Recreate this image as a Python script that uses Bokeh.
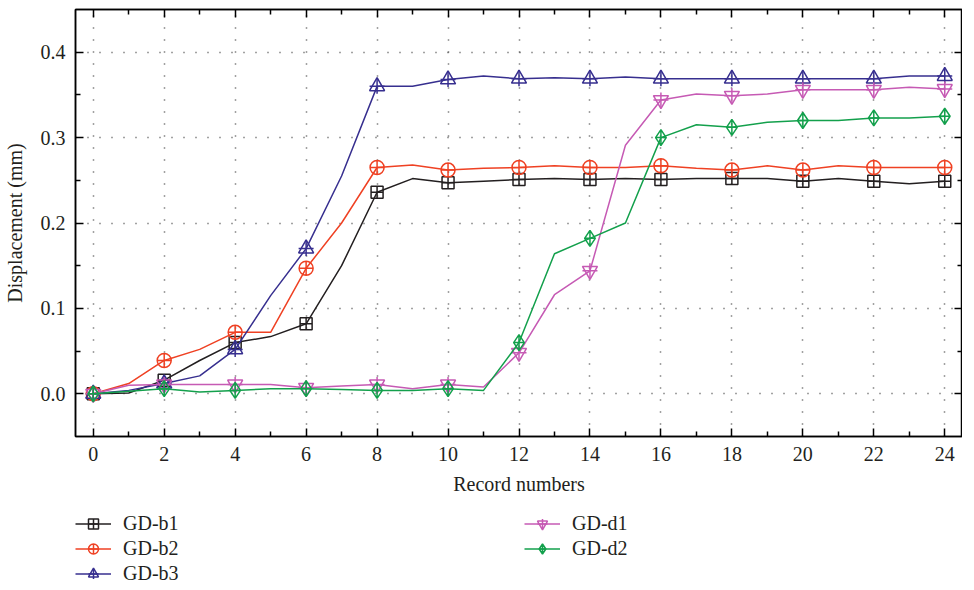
from bokeh.plotting import figure
from bokeh.layouts import column
from bokeh.models import (FixedTicker, LinearAxis, Range1d, Legend, LegendItem,
                          PrintfTickFormatter, CustomJSTickFormatter)
from bokeh.embed import file_html
from bokeh.resources import INLINE

# ---------------- data ----------------
record = list(range(25))
gd_b1 = [0.000, 0.001, 0.016, 0.039, 0.060, 0.067, 0.082, 0.150, 0.236, 0.252,
         0.247, 0.249, 0.251, 0.252, 0.251, 0.252, 0.251, 0.252, 0.252, 0.252,
         0.249, 0.252, 0.249, 0.246, 0.249]
gd_b2 = [0.000, 0.012, 0.039, 0.052, 0.072, 0.072, 0.147, 0.200, 0.265, 0.268,
         0.262, 0.264, 0.265, 0.267, 0.265, 0.265, 0.267, 0.264, 0.262, 0.267,
         0.262, 0.267, 0.265, 0.265, 0.265]
gd_b3 = [0.000, 0.004, 0.012, 0.021, 0.052, 0.115, 0.170, 0.255, 0.360, 0.360,
         0.368, 0.372, 0.369, 0.370, 0.369, 0.371, 0.369, 0.369, 0.369, 0.369,
         0.369, 0.369, 0.369, 0.372, 0.372]
gd_d1 = [0.000, 0.010, 0.011, 0.011, 0.011, 0.011, 0.007, 0.009, 0.011, 0.006,
         0.011, 0.008, 0.048, 0.116, 0.144, 0.291, 0.344, 0.351, 0.349, 0.351,
         0.356, 0.356, 0.356, 0.359, 0.357]
gd_d2 = [0.000, 0.003, 0.006, 0.002, 0.004, 0.006, 0.006, 0.005, 0.004, 0.004,
         0.006, 0.004, 0.060, 0.164, 0.182, 0.200, 0.300, 0.315, 0.312, 0.318,
         0.320, 0.320, 0.323, 0.323, 0.325]

series_names = ["GD-b1", "GD-b2", "GD-b3", "GD-d1", "GD-d2"]
series_values = [gd_b1, gd_b2, gd_b3, gd_d1, gd_d2]

x_ticks = [0, 2, 4, 6, 8, 10, 12, 14, 16, 18, 20, 22, 24]
x_minor = [1, 3, 5, 7, 9, 11, 13, 15, 17, 19, 21, 23]
y_ticks = [0.0, 0.1, 0.2, 0.3, 0.4]
y_minor = [0.05, 0.15, 0.25, 0.35]

# ---------------- style ----------------
colors = ["#231f20", "#ef4123", "#372f8f", "#c65ab4", "#13a04c"]
markers = ["square_cross", "circle_cross", "triangle", "inverted_triangle", "diamond_cross"]
extra_cross = [False, False, True, True, False]
msizes = [12, 14, 15, 15, 16]
FONT = "Liberation Serif"
W = 962

p = figure(width=W, height=500, output_backend="svg", toolbar_location=None,
           x_range=Range1d(-0.5, 24.5), y_range=Range1d(-0.05, 0.45),
           min_border_left=67, min_border_right=0, min_border_top=9,
           min_border_bottom=64)
p.background_fill_color = "white"
p.border_fill_color = "white"
p.outline_line_color = "black"
p.outline_line_width = 1.5

xt = FixedTicker(ticks=x_ticks, minor_ticks=x_minor)
yt = FixedTicker(ticks=y_ticks, minor_ticks=y_minor)

for ax, tk in ((p.xaxis[0], xt), (p.yaxis[0], yt)):
    ax.ticker = tk
    ax.major_tick_in = 8
    ax.major_tick_out = 0
    ax.minor_tick_in = 5
    ax.minor_tick_out = 0
    ax.axis_line_width = 1.5
    ax.major_tick_line_width = 1.5
    ax.minor_tick_line_width = 1.5
    ax.major_label_text_font = FONT
    ax.major_label_text_font_size = "20px"
    ax.major_label_text_color = "#231f20"
    ax.axis_label_text_font = FONT
    ax.axis_label_text_font_size = "20px"
    ax.axis_label_text_font_style = "normal"
    ax.axis_label_text_color = "#231f20"
    ax.major_label_standoff = 10

p.yaxis[0].formatter = PrintfTickFormatter(format="%.1f")
p.xaxis[0].axis_label = "Record numbers"
p.xaxis[0].axis_label_standoff = 9
p.yaxis[0].axis_label = "Displacement (mm)"
p.yaxis[0].axis_label_standoff = 12

blank = CustomJSTickFormatter(code="return '';")
for side, tk in (("right", yt), ("above", xt)):
    ax = LinearAxis(ticker=tk, formatter=blank, major_label_standoff=0,
                    major_label_text_font_size="1px",
                    major_tick_in=8, major_tick_out=0, minor_tick_in=5, minor_tick_out=0,
                    axis_line_width=1.5, major_tick_line_width=1.5, minor_tick_line_width=1.5)
    p.add_layout(ax, side)

p.grid.grid_line_color = "#444444"
p.grid.grid_line_dash = "1 11"
p.grid.grid_line_width = 1.5
p.xgrid.ticker = xt
p.ygrid.ticker = yt

# legend strip below the chart: same series, drawn outside its (empty) view,
# so only the legend swatches show
pl = figure(width=W, height=86, output_backend="svg", toolbar_location=None,
            x_axis_location=None, y_axis_location=None,
            x_range=Range1d(-0.5, 24.5), y_range=Range1d(5, 6),
            min_border_left=0, min_border_right=0, min_border_top=0, min_border_bottom=0)
pl.outline_line_color = None
pl.grid.visible = False
pl.background_fill_color = "white"
pl.border_fill_color = "white"

items = []
for name, vals, c, m, xc, ms in zip(series_names, series_values, colors, markers,
                                     extra_cross, msizes):
    xs = record[::2]
    ys = vals[::2]
    p.line(record, vals, line_color=c, line_width=1.5)
    p.scatter(xs, ys, marker=m, size=ms, line_color=c, fill_color=None, line_width=1.5)
    if xc:
        p.scatter(xs, ys, marker="cross", size=ms, line_color=c, line_width=1.5)
    rs = [pl.line(record, vals, line_color=c, line_width=1.5),
          pl.scatter(xs, ys, marker=m, size=ms, line_color=c, fill_color=None,
                     line_width=1.5)]
    if xc:
        rs.append(pl.scatter(xs, ys, marker="cross", size=ms, line_color=c,
                             line_width=1.5))
    items.append(LegendItem(label=name, renderers=rs))

legend = Legend(items=items, nrows=3, orientation="vertical", location=(0, 0),
                border_line_alpha=0, background_fill_alpha=0,
                label_text_font=FONT, label_text_font_size="20px",
                label_text_color="#231f20",
                glyph_width=36, glyph_height=25, label_height=20,
                label_standoff=12, spacing=0, padding=0, margin=0,
                label_width=401)
pl.add_layout(legend, "center")

open("out.html", "w").write(file_html(column(p, pl), INLINE))
